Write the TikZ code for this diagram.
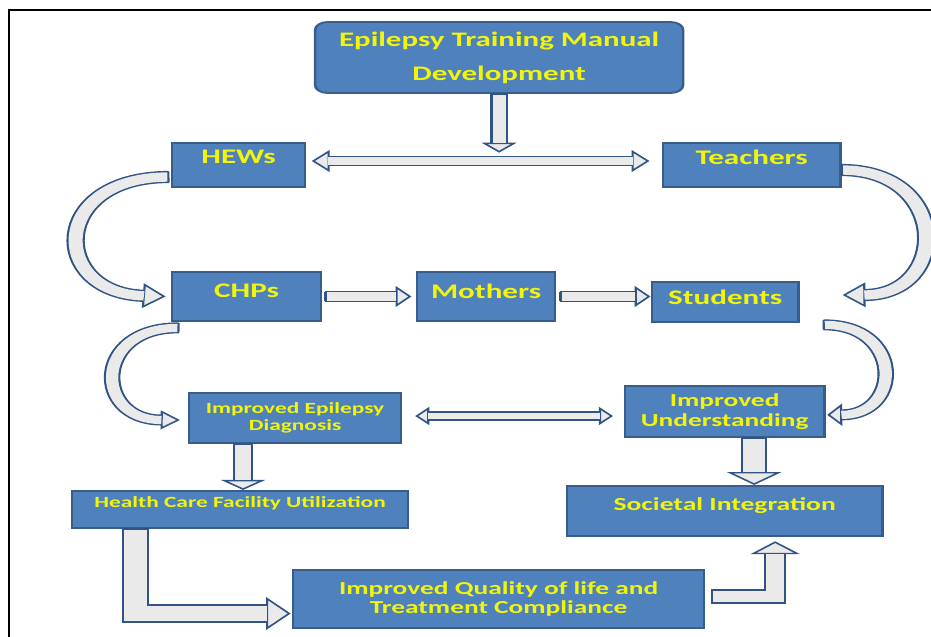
\documentclass[tikz,border=0pt]{standalone}
\usepackage{fontspec}
\setmainfont{Carlito}
\usetikzlibrary{arrows.meta,decorations.markings}

\definecolor{boxFill}{HTML}{4F81BD}
\definecolor{boxEdge}{HTML}{385D8A}
\definecolor{labelYellow}{HTML}{F2F50A}
\definecolor{arrowFill}{HTML}{EAEAEA}
\definecolor{arrowEdge}{HTML}{2F5485}

\tikzset{
  boxDecorate/.style={draw=boxEdge, fill=boxFill, line width=1.5pt,
    text=labelYellow, inner sep=1pt},
  boxSize/.style 2 args={minimum width=#1*0.02cm, minimum height=#2*0.03cm},
  bigText/.style={font=\fontsize{17.7pt}{21pt}\selectfont\bfseries},
  headEnd/.style 2 args={postaction={decorate, decoration={markings,
      mark=at position 0.996 with {\arrow[arrowEdge, line width=1.2pt]{Triangle[width=#1, length=#2, fill=arrowFill]}}}}},
  headStart/.style 2 args={postaction={decorate, decoration={markings,
      mark=at position 0.004 with {\arrowreversed[arrowEdge, line width=1.2pt]{Triangle[width=#1, length=#2, fill=arrowFill]}}}}},
  tailCap/.style={postaction={decorate, decoration={markings,
      mark=at position 0.001 with {\draw[arrowEdge, line width=1.2pt] (0pt,{-(#1)/2-0.6pt}) -- (0pt,{(#1)/2+0.6pt});}}}},
  blockArrow/.style n args={3}{headEnd={#2}{#3},
    postaction={draw=arrowEdge, line width=1.2pt, double=arrowFill, double distance=#1, shorten >=#3},
    tailCap={#1}},
  twoWay/.style n args={3}{headEnd={#2}{#3}, headStart={#2}{#3},
    postaction={draw=arrowEdge, line width=1.2pt, double=arrowFill, double distance=#1,
      shorten >=#3, shorten <=#3}}
}

\begin{document}
\begin{tikzpicture}[x=0.03cm, y=-0.03cm]
\useasboundingbox (0,0) rectangle (931,636);
\draw[line width=2.5pt] (9,640) -- (9,10) -- (935,10);

\begin{scope}[transform canvas={xscale=1.5}, x=0.02cm]
%% boxes
\node (train) at (499,57.5) [boxDecorate, rounded corners=7pt, boxSize={368}{71}, align=center,
  font=\fontsize{17.6pt}{29pt}\selectfont\bfseries] {Epilepsy Training Manual\\Development};
\foreach \name/\x/\y/\w/\h/\lift/\txt in {
  hews/238.5/165/133/44/13.6pt/HEWs,
  teachers/751.5/165/177/44/13.6pt/Teachers,
  chps/246.5/296.5/149/49/9.4pt/CHPs,
  mothers/486/296.5/138/49/9.4pt/Mothers,
  students/725/302/146/40/8.5pt/Students}
{
  \node (\name) at (\x,\y) [boxDecorate, bigText, boxSize={\w}{\h}, text depth=\lift] {\txt};
}
\node (diag) at (295,418) [boxDecorate, boxSize={212}{50}, align=center,
  font=\fontsize{13.3pt}{14.7pt}\selectfont\bfseries] {Improved Epilepsy\\Diagnosis};
\node (under) at (724.5,411.5) [boxDecorate, boxSize={199}{51}, align=center,
  font=\fontsize{15.6pt}{17.6pt}\selectfont\bfseries] {Improved\\Understanding};
\node (health) at (240,509.5) [boxDecorate, boxSize={336}{37}, text depth=12pt,
  font=\fontsize{13.3pt}{16pt}\selectfont\bfseries] {Health Care Facility Utilization};
\node (societal) at (724.5,511) [boxDecorate, boxSize={315}{50}, text depth=12pt,
  font=\fontsize{15.7pt}{18pt}\selectfont\bfseries] {Societal Integration};
\node (quality) at (498.5,599) [boxDecorate, boxSize={411}{58}, align=center,
  font=\fontsize{15.6pt}{17pt}\selectfont\bfseries] {Improved Quality of life and\\Treatment Compliance};

%% straight arrows
\path[blockArrow={7.5pt}{19.8pt}{8.5pt}] (train.south) -- ++(0,59);
\path[twoWay={6.5pt}{18.7pt}{10.2pt}] ([shift={(0.08cm,0.12cm)}]hews.east) -- ([shift={(-0.22cm,0.12cm)}]teachers.west);
\path[blockArrow={7pt}{17.8pt}{9pt}] ([xshift=0.06cm]chps.east) -- ([xshift=-0.08cm]mothers.west);
\path[blockArrow={7pt}{17.8pt}{9pt}] ([xshift=0.08cm]mothers.east) -- (students.west |- mothers.east);
\path[twoWay={5.5pt}{15.3pt}{8pt}] ([shift={(0.24cm,0.06cm)}]diag.east) -- ([shift={(-0.2cm,0.06cm)}]diag.east -| under.west);
\path[blockArrow={9.2pt}{25pt}{8.5pt}] ([xshift=-1.04cm]diag.south) -- ([xshift=-1.04cm]diag.south |- health.north);
\path[blockArrow={12.5pt}{31pt}{11pt}] ([xshift=0.59cm]under.south) -- ([xshift=0.59cm]under.south |- societal.north);
\path[blockArrow={13.4pt}{28pt}{14pt}] ([xshift=-2.09cm]health.south) |- ([yshift=-0.435cm]quality.west);
\path[blockArrow={9.9pt}{28pt}{11pt}] ([shift={(0.12cm,0.075cm)}]quality.east) -| ([shift={(1.01cm,-0.12cm)}]societal.south);

%% curved arrows
\path[blockArrow={8pt}{21pt}{13pt}] ([shift={(-0.04cm,-0.36cm)}]hews.west)
  .. controls (49,177) and (49,293) .. ([xshift=-0.08cm]chps.west);
\path[blockArrow={8pt}{21pt}{13pt}] ([yshift=-0.15cm]teachers.east)
  .. controls (950,170) and (950,295) .. ([shift={(0.84cm,0.21cm)}]students.east);
\path[blockArrow={7pt}{16pt}{11pt}] ([shift={(0.16cm,-0.18cm)}]chps.south west)
  .. controls (93,327) and (93,420) .. ([shift={(-0.14cm,-0.06cm)}]diag.west);
\path[blockArrow={7pt}{19pt}{8.5pt}] ([shift={(0.48cm,-0.06cm)}]students.south east)
  .. controls (903,324) and (903,415) .. ([shift={(0.02cm,-0.1cm)}]under.east);
\end{scope}
\end{tikzpicture}
\end{document}
